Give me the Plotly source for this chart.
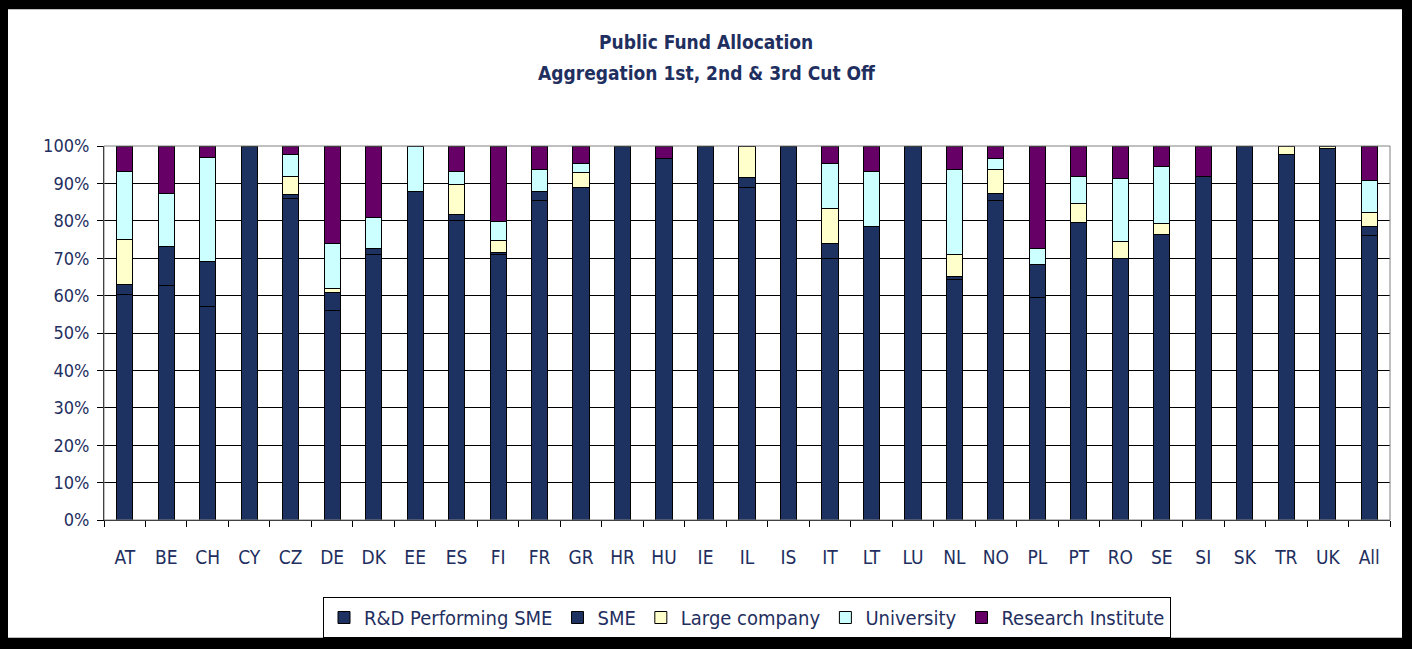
import plotly.graph_objects as go

categories = ["AT", "BE", "CH", "CY", "CZ", "DE", "DK", "EE", "ES", "FI", "FR", "GR", "HR", "HU", "IE",
              "IL", "IS", "IT", "LT", "LU", "NL", "NO", "PL", "PT", "RO", "SE", "SI", "SK", "TR", "UK", "All"]

rd_sme = [60.4, 62.6, 57.0, 100, 86.0, 55.9, 71.1, 87.9, 80.0, 71.1, 85.5, 89.0, 100, 96.7, 100,
          89.0, 100, 70.0, 78.6, 100, 64.4, 85.5, 59.6, 79.6, 69.8, 76.4, 91.9, 100, 97.6, 99.4, 76.2]
sme = [2.7, 10.4, 12.0, 0, 1.1, 4.8, 1.4, 0, 1.8, 0.3, 2.4, 0, 0, 0, 0,
       2.6, 0, 4.0, 0, 0, 0.7, 1.7, 8.6, 0, 0, 0, 0, 0, 0, 0, 2.4]
large_company = [12.0, 0, 0, 0, 4.8, 1.2, 0, 0, 8.0, 3.4, 0, 4.0, 0, 0, 0,
                 8.4, 0, 9.4, 0, 0, 6.0, 6.6, 0, 5.1, 4.8, 3.0, 0, 0, 2.4, 0.6, 3.7]
university = [18.1, 14.4, 28.0, 0, 5.9, 11.9, 8.5, 12.1, 3.4, 5.1, 5.9, 2.4, 0, 0, 0,
              0, 0, 12.0, 14.6, 0, 22.7, 2.9, 4.5, 7.2, 16.8, 15.2, 0, 0, 0, 0, 8.5]
research_institute = [6.8, 12.6, 3.0, 0, 2.2, 26.2, 19.0, 0, 6.8, 20.1, 6.2, 4.6, 0, 3.3, 0,
                      0, 0, 4.6, 6.8, 0, 6.2, 3.3, 27.3, 8.1, 8.6, 5.4, 8.1, 0, 0, 0, 9.2]

series_names = ["R&D Performing SME", "SME", "Large company", "University", "Research Institute"]
series_values = [rd_sme, sme, large_company, university, research_institute]
series_colors = ["#1E3262", "#1E3262", "#FFFFCC", "#CCFFFF", "#660066"]

TEXT = "#1F2F60"
FONT = "DejaVu Sans Condensed, Tahoma, DejaVu Sans, sans-serif"

fig = go.Figure()
for name, vals, col in zip(series_names, series_values, series_colors):
    fig.add_trace(go.Bar(
        x=categories,
        y=[v if v else None for v in vals],
        name=name,
        marker=dict(color=col, line=dict(color="black", width=1)),
    ))

W, H = 1412, 649
L, R, T, B = 104, 22, 146, 128
pw, ph = W - L - R, H - T - B


def px_x(p):
    return (p - L) / pw


def px_y(p):
    return (H - B - p) / ph


# white page inside the black frame
fig.add_shape(type="rect", xref="paper", yref="paper",
              x0=px_x(8), x1=px_x(1402), y0=px_y(639), y1=px_y(9),
              fillcolor="white", line=dict(width=0), layer="below")
# gray plot-area border (top and right)
fig.add_shape(type="rect", xref="paper", yref="paper", x0=0, x1=1, y0=0, y1=1,
              fillcolor="rgba(0,0,0,0)", line=dict(color="#808080", width=1), layer="above")

fig.add_annotation(text="<b>Public Fund Allocation</b>", xref="paper", yref="paper",
                   x=px_x(706), y=px_y(42), xanchor="center", yanchor="middle", showarrow=False,
                   font=dict(family=FONT, size=19, color=TEXT))
fig.add_annotation(text="<b>Aggregation 1st, 2nd &amp; 3rd Cut Off</b>", xref="paper", yref="paper",
                   x=px_x(706), y=px_y(73), xanchor="center", yanchor="middle", showarrow=False,
                   font=dict(family=FONT, size=19, color=TEXT))

fig.update_layout(
    width=W, height=H,
    margin=dict(l=L, r=R, t=T, b=B, pad=0),
    paper_bgcolor="black",
    plot_bgcolor="white",
    barmode="stack",
    bargap=0.61,
    font=dict(family=FONT, size=18, color=TEXT),
    legend=dict(orientation="h", x=0.5, xanchor="center", y=px_y(597), yanchor="top",
                bgcolor="white", bordercolor="black", borderwidth=1,
                font=dict(family=FONT, size=20, color=TEXT), itemwidth=30,
                traceorder="normal"),
    xaxis=dict(showline=True, linecolor="black", linewidth=1, ticks="outside", ticklen=6,
               tickcolor="black", tickson="boundaries", showgrid=False,
               tickfont=dict(family=FONT, size=19, color=TEXT), ticklabelstandoff=20),
    yaxis=dict(range=[0, 100], dtick=10, ticksuffix="%", showline=True, linecolor="black",
               linewidth=1, ticks="outside", ticklen=6, tickcolor="black",
               showgrid=True, gridcolor="black", gridwidth=1, zeroline=False,
               tickfont=dict(family=FONT, size=18, color=TEXT), ticklabelstandoff=4),
)

fig.write_html(
    "out.html",
    config={"displayModeBar": False},
    post_script="document.body.style.margin='0';document.body.style.overflow='hidden';",
)
